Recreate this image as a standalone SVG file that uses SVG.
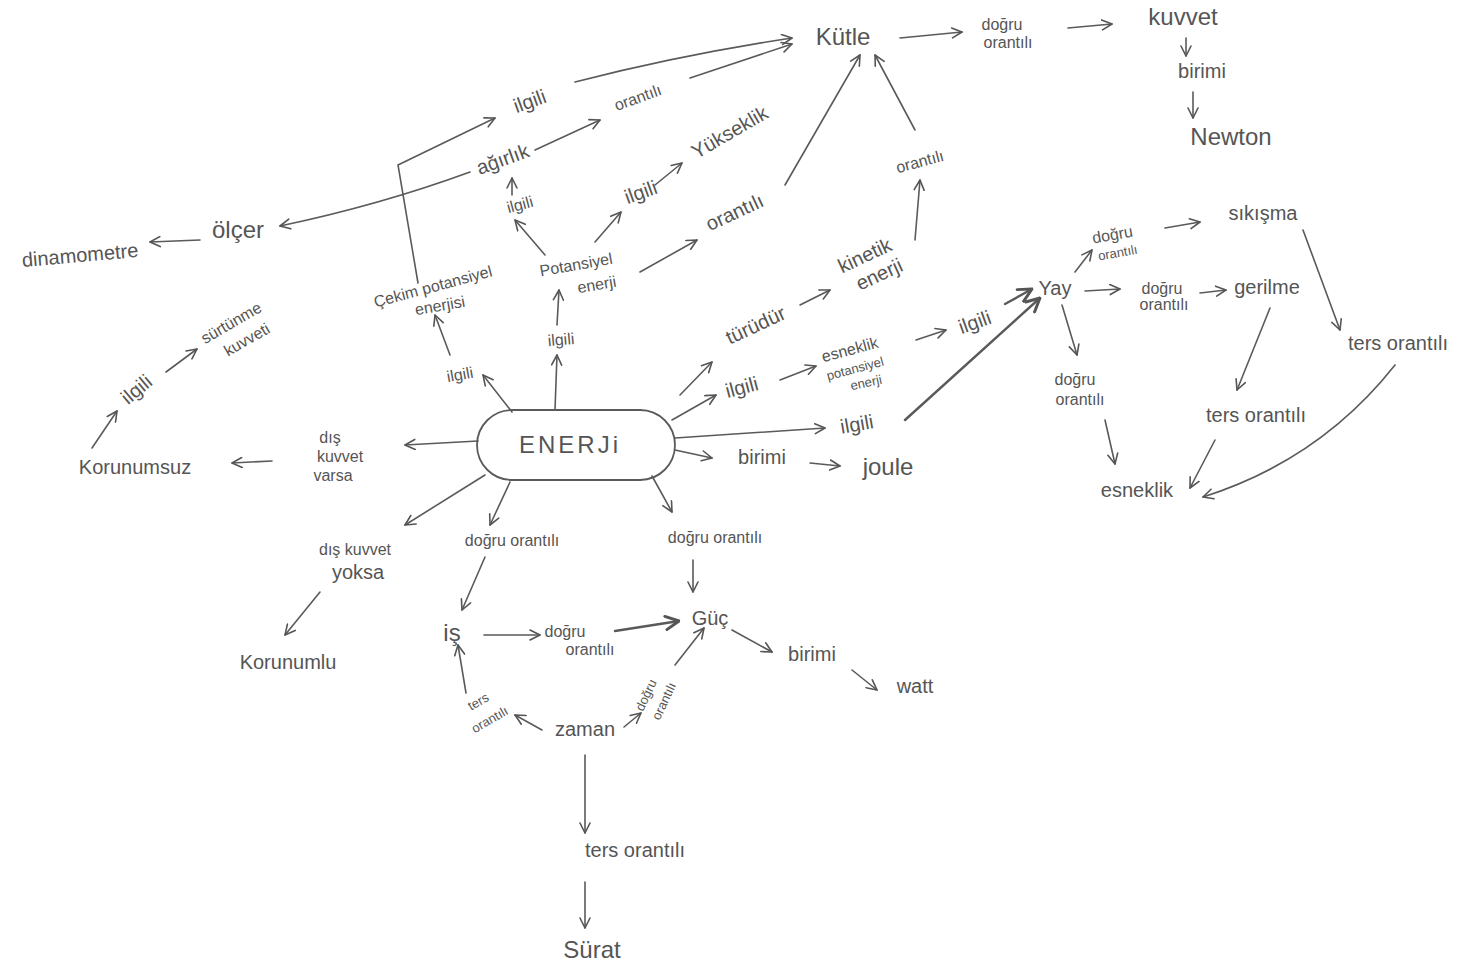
<svg xmlns="http://www.w3.org/2000/svg" width="1472" height="969" viewBox="0 0 1472 969">
<defs>
<marker id="ah" viewBox="0 0 12 12" refX="11" refY="6" markerWidth="12" markerHeight="12" markerUnits="userSpaceOnUse" orient="auto">
<path d="M1,1 L11,6 L1,11" fill="none" stroke="#555" stroke-width="1.6" stroke-linecap="round" stroke-linejoin="round"/>
</marker>
<marker id="ahb" viewBox="0 0 12 12" refX="11" refY="6" markerWidth="16" markerHeight="16" markerUnits="userSpaceOnUse" orient="auto">
<path d="M1,1 L11,6 L1,11" fill="none" stroke="#555" stroke-width="2.2" stroke-linecap="round" stroke-linejoin="round"/>
</marker>
</defs>
<style>
text{font-family:"Liberation Sans","DejaVu Sans",sans-serif;fill:#555;text-anchor:middle}
.l{font-size:24px}
.m{font-size:20px}
.s{font-size:16px}
.xs{font-size:13px}
.c{fill:none;stroke:#5a5a5a;stroke-width:1.6;stroke-linecap:round}
.a{marker-end:url(#ah)}
.b{stroke-width:2.4;marker-end:url(#ahb)}
</style>
<rect width="1472" height="969" fill="#fff"/>

<g id="connectors">
<path class="c a" d="M900,38 L962,32"/>
<path class="c a" d="M1068,28 L1112,24"/>
<path class="c a" d="M1186,38 L1186,56"/>
<path class="c a" d="M1193,92 L1193,118"/>
<path class="c a" d="M575,82 Q680,55 792,38"/>
<path class="c a" d="M690,78 L792,44"/>
<path class="c a" d="M535,150 L600,120"/>
<path class="c a" d="M418,283 L398,165 L495,118"/>
<path class="c a" d="M470,172 Q380,205 280,226"/>
<path class="c a" d="M200,240 L150,242"/>
<path class="c a" d="M545,255 L515,220"/>
<path class="c a" d="M512,195 L512,178"/>
<path class="c a" d="M595,242 L621,212"/>
<path class="c a" d="M655,185 L682,163"/>
<path class="c a" d="M640,272 L697,240"/>
<path class="c a" d="M785,185 L860,55"/>
<path class="c a" d="M915,130 L875,55"/>
<path class="c a" d="M915,240 L920,180"/>
<path class="c a" d="M512,412 L483,375"/>
<path class="c a" d="M450,355 L435,315"/>
<path class="c a" d="M555,410 L557,355"/>
<path class="c a" d="M557,325 L559,290"/>
<path class="c a" d="M680,395 L712,362"/>
<path class="c a" d="M800,305 L830,290"/>
<path class="c a" d="M672,420 L716,395"/>
<path class="c a" d="M780,380 L816,366"/>
<path class="c a" d="M916,340 L946,330"/>
<path class="c b" d="M1005,304 L1032,289"/>
<path class="c a" d="M675,438 L825,428"/>
<path class="c b" d="M905,420 L1040,298"/>
<path class="c a" d="M675,450 L712,458"/>
<path class="c a" d="M810,463 L840,466"/>
<path class="c a" d="M1075,272 L1092,250"/>
<path class="c a" d="M1165,228 L1200,222"/>
<path class="c a" d="M1085,291 L1120,289"/>
<path class="c a" d="M1200,293 L1226,290"/>
<path class="c a" d="M1062,305 L1077,355"/>
<path class="c a" d="M1105,420 L1115,464"/>
<path class="c a" d="M1303,230 L1340,330"/>
<path class="c a" d="M1270,308 L1237,390"/>
<path class="c a" d="M1215,440 L1190,488"/>
<path class="c a" d="M1395,365 Q1320,460 1203,497"/>
<path class="c a" d="M478,441 L405,445"/>
<path class="c a" d="M272,461 L232,463"/>
<path class="c a" d="M92,448 L117,411"/>
<path class="c a" d="M166,372 L197,349"/>
<path class="c a" d="M485,475 L405,525"/>
<path class="c a" d="M320,592 L285,635"/>
<path class="c a" d="M510,482 L490,525"/>
<path class="c a" d="M485,557 L462,610"/>
<path class="c a" d="M484,635 L540,635"/>
<path class="c b" d="M615,631 L679,621"/>
<path class="c a" d="M652,476 L672,512"/>
<path class="c a" d="M693,560 L693,592"/>
<path class="c a" d="M732,630 L772,652"/>
<path class="c a" d="M852,670 L877,690"/>
<path class="c a" d="M542,730 L515,715"/>
<path class="c a" d="M466,693 L458,645"/>
<path class="c a" d="M624,727 L641,713"/>
<path class="c a" d="M675,665 L704,628"/>
<path class="c a" d="M585,755 L585,833"/>
<path class="c a" d="M585,882 L585,928"/>
</g>

<g id="n-enerji">
<rect x="477" y="410" width="198" height="70" rx="35" ry="35" fill="none" stroke="#5a5a5a" stroke-width="1.8"/>
<text class="l" x="570" y="453" style="letter-spacing:3px">ENERJi</text>
</g>
<g id="n-kutle"><text class="l" x="843" y="45">Kütle</text></g>
<g id="n-dogru-top"><text class="s" x="1002" y="30">doğru</text><text class="s" x="1008" y="48">orantılı</text></g>
<g id="n-kuvvet"><text class="l" x="1183" y="25">kuvvet</text></g>
<g id="n-birimi-top"><text class="m" x="1202" y="78">birimi</text></g>
<g id="n-newton"><text class="l" x="1231" y="145">Newton</text></g>

<g id="n-ilgili-1"><text class="m" transform="rotate(-20 530 102)" x="530" y="108">ilgili</text></g>
<g id="n-orantili-1"><text class="s" transform="rotate(-20 638 98)" x="638" y="103">orantılı</text></g>
<g id="n-agirlik"><text class="m" transform="rotate(-20 503 160)" x="503" y="166">ağırlık</text></g>
<g id="n-yukseklik"><text class="m" transform="rotate(-30 730 133)" x="730" y="139">Yükseklik</text></g>
<g id="n-ilgili-2"><text class="s" transform="rotate(-15 520 205)" x="520" y="210">ilgili</text></g>
<g id="n-ilgili-3"><text class="m" transform="rotate(-20 641 193)" x="641" y="199">ilgili</text></g>
<g id="n-orantili-2"><text class="m" transform="rotate(-25 735 213)" x="735" y="219">orantılı</text></g>
<g id="n-orantili-3"><text class="s" transform="rotate(-15 920 162)" x="920" y="167">orantılı</text></g>
<g id="n-potansiyel"><text class="s" transform="rotate(-10 577 270)" x="577" y="270">Potansiyel</text><text class="s" transform="rotate(-10 597 286)" x="597" y="290">enerji</text></g>
<g id="n-olcer"><text class="l" x="238" y="238">ölçer</text></g>
<g id="n-dinamometre"><text class="m" transform="rotate(-5 80 255)" x="80" y="262">dinamometre</text></g>
<g id="n-cekim"><text class="s" transform="rotate(-15 433 287)" x="433" y="292">Çekim potansiyel</text><text class="s" transform="rotate(-10 440 306)" x="440" y="311">enerjisi</text></g>
<g id="n-ilgili-4"><text class="s" transform="rotate(-10 460 375)" x="460" y="380">ilgili</text></g>
<g id="n-ilgili-5"><text class="s" transform="rotate(-5 561 340)" x="561" y="345">ilgili</text></g>
<g id="n-kinetik"><text class="m" transform="rotate(-25 866 258)" x="866" y="262">kinetik</text><text class="m" transform="rotate(-25 880 276)" x="880" y="281">enerji</text></g>
<g id="n-turudur"><text class="m" transform="rotate(-25 756 326)" x="756" y="332">türüdür</text></g>
<g id="n-ilgili-6"><text class="m" transform="rotate(-15 742 388)" x="742" y="394">ilgili</text></g>
<g id="n-esneklik-pe"><text class="s" transform="rotate(-15 850 350)" x="850" y="355">esneklik</text><text class="xs" transform="rotate(-15 855 368)" x="855" y="373">potansiyel</text><text class="xs" transform="rotate(-12 866 382)" x="866" y="387">enerji</text></g>
<g id="n-ilgili-7"><text class="m" transform="rotate(-20 975 323)" x="975" y="329">ilgili</text></g>
<g id="n-ilgili-8"><text class="m" transform="rotate(-10 857 425)" x="857" y="431">ilgili</text></g>
<g id="n-birimi-mid"><text class="m" x="762" y="464">birimi</text></g>
<g id="n-joule"><text class="l" x="888" y="475">joule</text></g>
<g id="n-yay"><text class="m" x="1055" y="295">Yay</text></g>
<g id="n-dogru-y1"><text class="s" transform="rotate(-10 1113 238)" x="1113" y="240">doğru</text><text class="xs" transform="rotate(-10 1118 254)" x="1118" y="257">orantılı</text></g>
<g id="n-sikisma"><text class="m" x="1263" y="220">sıkışma</text></g>
<g id="n-dogru-y2"><text class="s" x="1162" y="294">doğru</text><text class="s" x="1164" y="310">orantılı</text></g>
<g id="n-gerilme"><text class="m" x="1267" y="294">gerilme</text></g>
<g id="n-dogru-y3"><text class="s" x="1075" y="385">doğru</text><text class="s" x="1080" y="405">orantılı</text></g>
<g id="n-ters-1"><text class="m" x="1398" y="350">ters orantılı</text></g>
<g id="n-ters-2"><text class="m" x="1256" y="422">ters orantılı</text></g>
<g id="n-esneklik"><text class="m" x="1137" y="497">esneklik</text></g>
<g id="n-dis-varsa"><text class="s" x="330" y="443">dış</text><text class="s" x="340" y="462">kuvvet</text><text class="s" x="333" y="481">varsa</text></g>
<g id="n-korunumsuz"><text class="m" x="135" y="474">Korunumsuz</text></g>
<g id="n-ilgili-9"><text class="m" transform="rotate(-40 137 390)" x="137" y="396">ilgili</text></g>
<g id="n-surtunme"><text class="s" transform="rotate(-30 232 324)" x="232" y="328">sürtünme</text><text class="s" transform="rotate(-30 247 340)" x="247" y="345">kuvveti</text></g>
<g id="n-dis-yoksa"><text class="s" x="355" y="555">dış kuvvet</text><text class="m" x="358" y="579">yoksa</text></g>
<g id="n-korunumlu"><text class="m" x="288" y="669">Korunumlu</text></g>
<g id="n-dogru-b1"><text class="s" x="512" y="546">doğru orantılı</text></g>
<g id="n-dogru-b2"><text class="s" x="715" y="543">doğru orantılı</text></g>
<g id="n-is"><text class="l" x="452" y="641">iş</text></g>
<g id="n-dogru-b3"><text class="s" x="565" y="637">doğru</text><text class="s" x="590" y="655">orantılı</text></g>
<g id="n-guc"><text class="m" x="710" y="625">Güç</text></g>
<g id="n-birimi-b"><text class="m" x="812" y="661">birimi</text></g>
<g id="n-watt"><text class="m" x="915" y="693">watt</text></g>
<g id="n-ters-b1"><text class="xs" transform="rotate(-30 482 708)" x="482" y="705">ters</text><text class="xs" transform="rotate(-30 490 720)" x="490" y="724">orantılı</text></g>
<g id="n-zaman"><text class="m" x="585" y="736">zaman</text></g>
<g id="n-dogru-b4"><text class="xs" transform="rotate(-65 650 697)" x="650" y="697">doğru</text><text class="xs" transform="rotate(-65 668 703)" x="668" y="703">orantılı</text></g>
<g id="n-ters-b2"><text class="m" x="635" y="857">ters orantılı</text></g>
<g id="n-surat"><text class="l" x="592" y="958">Sürat</text></g>
</svg>
